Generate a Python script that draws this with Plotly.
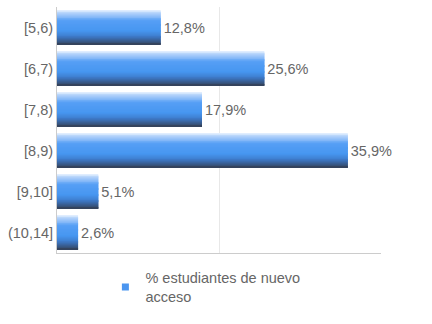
import plotly.graph_objects as go

categories = ["[5,6)", "[6,7)", "[7,8)", "[8,9)", "[9,10]", "(10,14]"]
values = [12.8, 25.6, 17.9, 35.9, 5.1, 2.6]
series_name = "% estudiantes de nuevo<br>acceso"

# vertical gradient stops (top -> bottom) for the bar fill
stops = [(0.0, (230, 241, 255)), (0.12, (170, 205, 250)), (0.32, (85, 158, 245)),
         (0.62, (70, 150, 240)), (0.8, (60, 118, 195)), (1.0, (52, 64, 86))]

def color_at(t):
    for (t0, c0), (t1, c1) in zip(stops[:-1], stops[1:]):
        if t0 <= t <= t1:
            f = (t - t0) / (t1 - t0) if t1 > t0 else 0
            c = [round(a + (b - a) * f) for a, b in zip(c0, c1)]
            return "rgb(%d,%d,%d)" % tuple(c)
    return "rgb(%d,%d,%d)" % stops[-1][1]

bar_w = 0.84
n = 40
sw = bar_w / n
fig = go.Figure()
for i in range(n):
    t = (i + 0.5) / n
    fig.add_trace(go.Bar(
        x=values, y=categories, orientation="h",
        width=sw * 1.3 if i < n - 1 else sw, offset=-bar_w / 2 + i * sw,
        marker=dict(color=color_at(t), line=dict(width=0)),
        showlegend=False, hoverinfo="skip",
    ))
# label trace (transparent)
fig.add_trace(go.Bar(
    x=values, y=categories, orientation="h", width=bar_w,
    marker=dict(color="rgba(0,0,0,0)", line=dict(width=0)),
    texttemplate="%{x:.1f}%", textposition="outside", cliponaxis=False,
    textfont=dict(color="#666666", size=14.5, family="Liberation Sans"),
    showlegend=False, hoverinfo="skip",
))
# legend entry
fig.add_trace(go.Scatter(
    x=[None], y=[None], mode="markers", name=series_name,
    marker=dict(symbol="square", size=7, color="rgb(75,150,240)"),
    showlegend=True,
))

fig.update_layout(
    width=432, height=324, barmode="overlay", separators=",.",
    margin=dict(l=57, r=51, t=7, b=71),
    plot_bgcolor="white", paper_bgcolor="white",
    font=dict(family="Liberation Sans", size=14, color="#666666"),
    xaxis=dict(range=[0, 40], dtick=20, showticklabels=False, showgrid=True,
               gridcolor="#e8e8e8", zeroline=False, showline=True,
               linecolor="#cccccc", linewidth=1, ticks="", automargin=False),
    yaxis=dict(autorange="reversed", showline=True, linecolor="#cccccc",
               linewidth=1, ticks="", ticklabelstandoff=0, automargin=False,
               tickfont=dict(size=14.5)),
    legend=dict(orientation="h", x=0.458, xanchor="center", y=-0.035, yanchor="top",
                font=dict(size=14.5, color="#666666"), itemwidth=30),
)
fig.write_html("out.html")
